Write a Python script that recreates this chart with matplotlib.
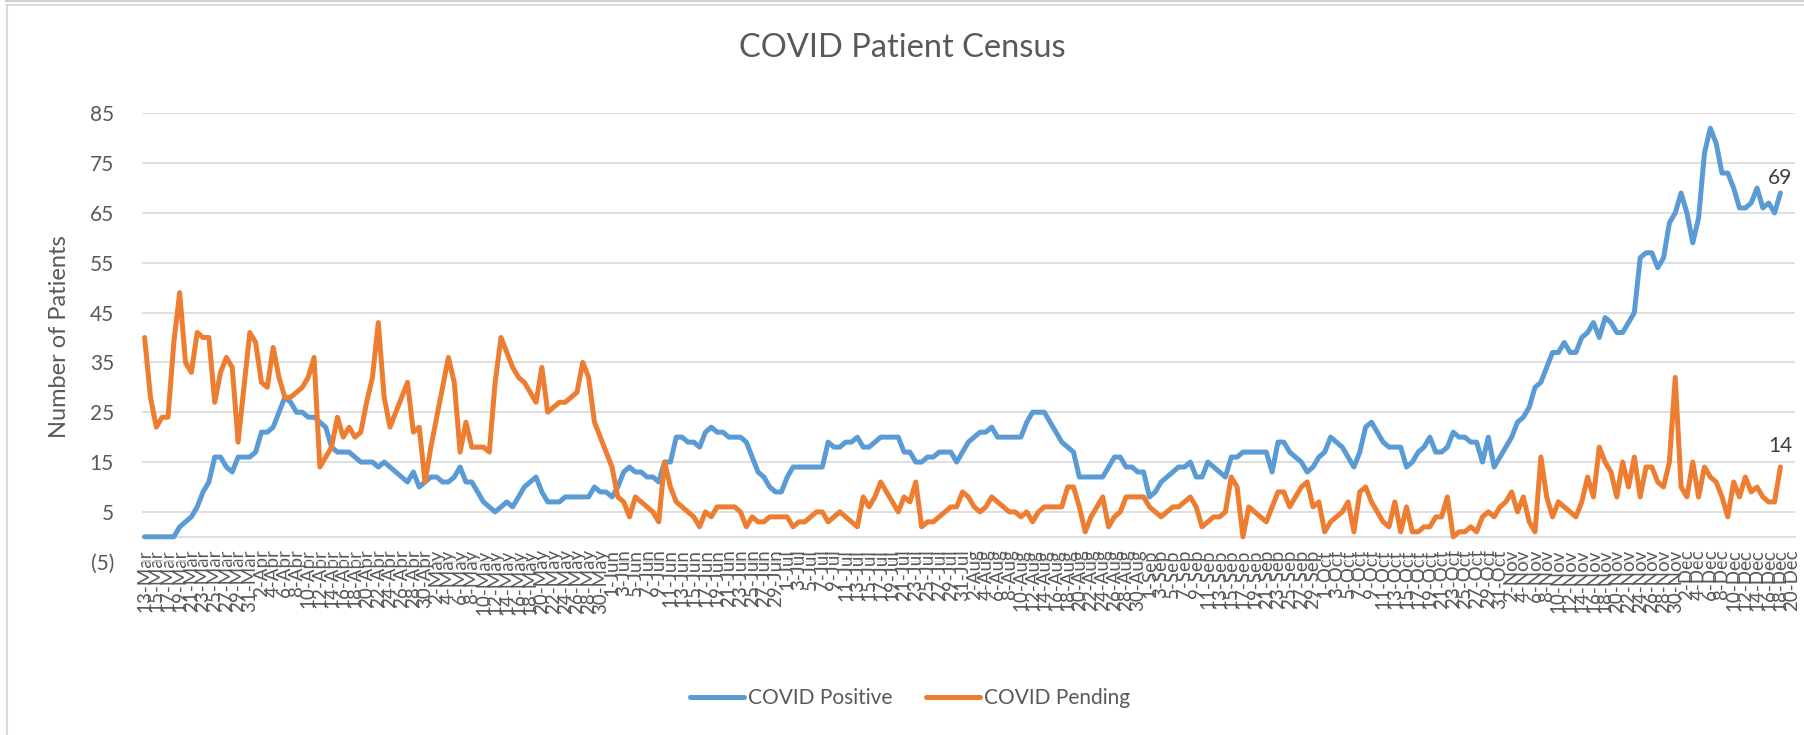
import pandas as pd
import matplotlib
matplotlib.use('Agg')
import matplotlib.pyplot as plt
from matplotlib.lines import Line2D
from matplotlib.ticker import FuncFormatter

plt.rcParams['font.family'] = ['Lato', 'DejaVu Sans']

# daily census, 13-Mar .. 18-Dec
positive = [
    0, 0, 0, 0, 0, 0, 2, 3, 4, 6, 9, 11, 16, 16, 14, 13, 16, 16, 16,                    # Mar
    17, 21, 21, 22, 25, 28, 27, 25, 25, 24, 24, 23, 22, 18, 17, 17, 17, 16, 15, 15,
    15, 14, 15, 14, 13, 12, 11, 13, 10, 11,                                              # Apr
    12, 12, 11, 11, 12, 14, 11, 11, 9, 7, 6, 5, 6, 7, 6, 8, 10, 11, 12, 9,
    7, 7, 7, 8, 8, 8, 8, 8, 10, 9, 9,                                                    # May
    8, 10, 13, 14, 13, 13, 12, 12, 11, 15, 15, 20, 20, 19, 19, 18, 21, 22, 21, 21,
    20, 20, 20, 19, 16, 13, 12, 10, 9, 9,                                                # Jun
    12, 14, 14, 14, 14, 14, 14, 19, 18, 18, 19, 19, 20, 18, 18, 19, 20, 20, 20, 20,
    17, 17, 15, 15, 16, 16, 17, 17, 17, 15, 17,                                          # Jul
    19, 20, 21, 21, 22, 20, 20, 20, 20, 20, 23, 25, 25, 25, 23, 21, 19, 18, 17, 12,
    12, 12, 12, 12, 14, 16, 16, 14, 14, 13, 13,                                          # Aug
    8, 9, 11, 12, 13, 14, 14, 15, 12, 12, 15, 14, 13, 12, 16, 16, 17, 17, 17, 17,
    17, 13, 19, 19, 17, 16, 15, 13, 14, 16,                                              # Sep
    17, 20, 19, 18, 16, 14, 17, 22, 23, 21, 19, 18, 18, 18, 14, 15, 17, 18, 20, 17,
    17, 18, 21, 20, 20, 19, 19, 15, 20, 14, 16,                                          # Oct
    18, 20, 23, 24, 26, 30, 31, 34, 37, 37, 39, 37, 37, 40, 41, 43, 40, 44, 43, 41,
    41, 43, 45, 56, 57, 57, 54, 56, 63, 65,                                              # Nov
    69, 65, 59, 64, 77, 82, 79, 73, 73, 70, 66, 66, 67, 70, 66, 67, 65, 69,              # Dec
]

pending = [
    40, 28, 22, 24, 24, 39, 49, 35, 33, 41, 40, 40, 27, 33, 36, 34, 19, 30, 41,
    39, 31, 30, 38, 32, 28, 28, 29, 30, 32, 36, 14, 16, 18, 24, 20, 22, 20, 21, 27,
    32, 43, 28, 22, 25, 28, 31, 21, 22, 11,
    18, 24, 30, 36, 31, 17, 23, 18, 18, 18, 17, 31, 40, 37, 34, 32, 31, 29, 27, 34,
    25, 26, 27, 27, 28, 29, 35, 32, 23, 20, 17,
    14, 8, 7, 4, 8, 7, 6, 5, 3, 15, 10, 7, 6, 5, 4, 2, 5, 4, 6, 6,
    6, 6, 5, 2, 4, 3, 3, 4, 4, 4,
    4, 2, 3, 3, 4, 5, 5, 3, 4, 5, 4, 3, 2, 8, 6, 8, 11, 9, 7, 5,
    8, 7, 11, 2, 3, 3, 4, 5, 6, 6, 9,
    8, 6, 5, 6, 8, 7, 6, 5, 5, 4, 5, 3, 5, 6, 6, 6, 6, 10, 10, 6,
    1, 4, 6, 8, 2, 4, 5, 8, 8, 8, 8,
    6, 5, 4, 5, 6, 6, 7, 8, 6, 2, 3, 4, 4, 5, 12, 10, 0, 6, 5, 4,
    3, 6, 9, 9, 6, 8, 10, 11, 6, 7,
    1, 3, 4, 5, 7, 1, 9, 10, 7, 5, 3, 2, 7, 1, 6, 1, 1, 2, 2, 4,
    4, 8, 0, 1, 1, 2, 1, 4, 5, 4, 6,
    7, 9, 5, 8, 3, 1, 16, 8, 4, 7, 6, 5, 4, 7, 12, 8, 18, 15, 13, 8,
    15, 10, 16, 8, 14, 14, 11, 10, 15, 32,
    10, 8, 15, 8, 14, 12, 11, 8, 4, 11, 8, 12, 9, 10, 8, 7, 7, 14,
]

# category axis runs two days past the data
dates = pd.date_range('2020-03-13', '2020-12-20', freq='D')
date_labels = [f"{d.day}-{d.strftime('%b')}" for d in dates]
y_ticks = [-5, 5, 15, 25, 35, 45, 55, 65, 75, 85]

BLUE = '#5B9BD5'
ORANGE = '#ED7D31'
GREY = '#595959'
GRID = '#D9D9D9'

W, H = 1804, 735
fig = plt.figure(figsize=(W / 100, H / 100), dpi=100)
ax = fig.add_axes([141.7 / W, 1 - 561.7 / H, (1795 - 141.7) / W, (561.7 - 113.3) / H])

x = list(range(len(positive)))
ax.plot(x, positive, color=BLUE, lw=3.6, solid_joinstyle='round', solid_capstyle='round',
        label='COVID Positive', zorder=3)
ax.plot(x, pending, color=ORANGE, lw=3.6, solid_joinstyle='round', solid_capstyle='round',
        label='COVID Pending', zorder=3)

# the category axis crosses at zero, labels hang from it
for s in ['top', 'right', 'left']:
    ax.spines[s].set_visible(False)
ax.spines['bottom'].set_position(('data', 0))
ax.spines['bottom'].set_color(GRID)
ax.spines['bottom'].set_linewidth(1.2)

ax.set_xlim(-0.5, len(dates) - 0.5)
ax.set_ylim(-5, 85)
ax.set_yticks(y_ticks)
ax.yaxis.set_major_formatter(FuncFormatter(lambda v, p: f"({abs(int(v))})" if v < 0 else f"{int(v)}"))
ax.grid(axis='y', color=GRID, lw=1.2, zorder=0)
ax.set_axisbelow(True)

ax.set_xticks(range(0, len(dates), 2))
ax.set_xticklabels(date_labels[::2])
ax.tick_params(axis='x', length=0, pad=9, labelsize=13.5, labelcolor=GREY, labelrotation=90)
ax.tick_params(axis='y', length=0, pad=20, labelsize=15, labelcolor=GREY)

# data labels on the last points
ax.annotate(str(positive[-1]), (x[-1], positive[-1]), xytext=(0, 11), textcoords='offset points',
            ha='center', va='center', fontsize=15, color='#404040')
ax.annotate(str(pending[-1]), (x[-1], pending[-1]), xytext=(0, 15), textcoords='offset points',
            ha='center', va='center', fontsize=15, color='#404040')

fig.text(0.5, 1 - 48 / H, 'COVID Patient Census', ha='center', va='center', fontsize=23.5, color=GREY)
fig.text(60 / W, 1 - 337 / H, 'Number of Patients', ha='center', va='center', rotation=90,
         fontsize=17, color=GREY)

fig.legend(loc='center', bbox_to_anchor=(910 / W, 1 - 698 / H), ncol=2, frameon=False,
           fontsize=15, handlelength=2.6, handletextpad=0.2, columnspacing=1.6, labelcolor=GREY)

# chart frame
fig.add_artist(Line2D([6 / W, 1], [1 - 0.8 / H] * 2, color='#D0D0D0', lw=1.5))
fig.add_artist(Line2D([7 / W, 1], [1 - 5 / H] * 2, color=GRID, lw=1.5))
fig.add_artist(Line2D([7 / W, 7 / W], [0, 1 - 5 / H], color=GRID, lw=1.5))

fig.savefig('out.png', dpi=100)
